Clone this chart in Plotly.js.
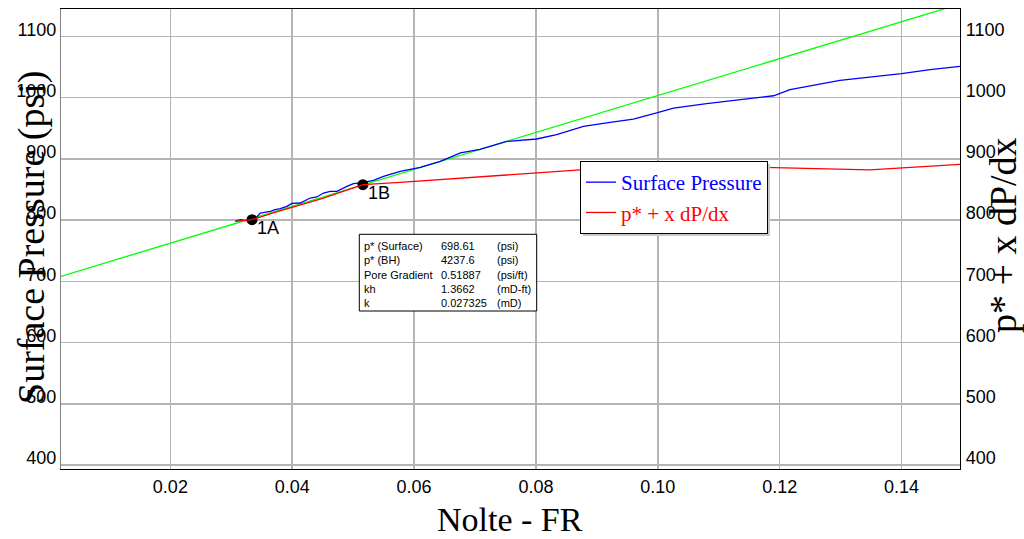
<!DOCTYPE html>
<html>
<head>
<meta charset="utf-8">
<script src="https://cdn.plot.ly/plotly-3.0.1.min.js"></script>
<style>html,body{margin:0;padding:0;background:#fff;}#chart{width:1024px;height:539px;}</style>
</head>
<body>
<div id="chart"></div>
<script>
// Surface Pressure (blue)
const surfX = [0.03065,0.03147,0.0323,0.03311,0.03421,0.03475,0.03557,0.03639,0.03721,0.03803,0.03913,0.03995,0.04131,0.04213,0.04295,0.04405,0.04514,0.04623,0.04733,0.04897,0.05006,0.0517,0.05334,0.05498,0.05662,0.05772,0.061,0.0643,0.0676,0.0708,0.0752,0.0801,0.0834,0.0878,0.0916,0.096,0.0998,0.1026,0.108,0.1097,0.1135,0.119,0.1217,0.1299,0.14,0.1447,0.1496];
const surfY = [797.8,800.6,799,801.8,805,811.5,812.5,814.2,817,818.6,822.3,827.2,827.9,832.1,836,837.7,844.2,846.8,846.8,855,859.4,861.5,864.8,871.3,876.9,879.5,886,895.8,909.6,915.4,928.5,932.4,939.4,953,958.6,965,974.9,983,990,992,996.7,1003,1013,1028,1039,1045.8,1051];
// p* + x dP/dx (red)
const fitX = [0.03065,0.0334,0.037,0.041,0.045,0.0487,0.0516,0.0577,0.0643,0.0801,0.0873,0.1,0.1173,0.1348,0.1496];
const fitY = [797.8,800.6,812,823.5,835.5,848,857.8,861.5,866,878,882,884.5,886,882,891];
// straight line (green)
const lineX = [0.0, 0.15];
const lineY = [702, 1154];
// selected points
const ptX = [0.0334, 0.0516];
const ptY = [800.6, 857.8];
const ptLabels = ["1A", "1B"];
// x / y ticks
const xTicks = [0.02,0.04,0.06,0.08,0.10,0.12,0.14];
const xTickText = ["0.02","0.04","0.06","0.08","0.10","0.12","0.14"];
const yTicks = [400,500,600,700,800,900,1000,1100];
// results table
const resLabels = ["p* (Surface)","p* (BH)","Pore Gradient","kh","k"];
const resValues = ["698.61","4237.6","0.51887","1.3662","0.027325"];
const resUnits = ["(psi)","(psi)","(psi/ft)","(mD-ft)","(mD)"];

const W = 1024, H = 539, mL = 61, mR = 64, mT = 9, mB = 70;
const pw = W - mL - mR, ph = H - mT - mB;
const px = v => (v - mL) / pw;
const py = v => (H - mB - v) / ph;

const xRange = [0.00205, 0.1496];
const yRange = [393.5, 1144.7];

const traces = [
  {x: lineX, y: lineY, mode: 'lines', line: {color: '#00ff00', width: 1.3}, showlegend: false, hoverinfo: 'skip'},
  {x: surfX, y: surfY, mode: 'lines', name: '<span style="color:#0000ff">Surface Pressure</span>', line: {color: '#0000ff', width: 1.3}},
  {x: fitX, y: fitY, mode: 'lines', yaxis: 'y2', name: '<span style="color:#ff0000">p* + x dP/dx</span>', line: {color: '#ff0000', width: 1.3}},
  {x: ptX, y: ptY, mode: 'markers', marker: {color: '#000', size: 11}, showlegend: false}
];

const tickFont = {family: 'Liberation Sans, Arial', size: 18, color: '#000'};
const serif = 'Liberation Serif, Times New Roman';

const annotations = [
  {text: 'Nolte - FR', xref: 'paper', yref: 'paper', x: px(510), y: py(519), xanchor: 'center', yanchor: 'middle', showarrow: false,
   font: {family: serif, size: 34, color: '#000'}},
  {text: 'Surface Pressure (psi)', xref: 'paper', yref: 'paper', x: px(31), y: py(238), xanchor: 'center', yanchor: 'middle', textangle: -90, showarrow: false,
   font: {family: serif, size: 38, color: '#000'}},
  {text: 'p* + x dP/dx', xref: 'paper', yref: 'paper', x: px(1003), y: py(235), xanchor: 'center', yanchor: 'middle', textangle: -90, showarrow: false,
   font: {family: serif, size: 38, color: '#000'}},
  {text: resLabels.join('<br>'), xref: 'paper', yref: 'paper', x: px(362), y: py(238), xanchor: 'left', yanchor: 'top', align: 'left', showarrow: false,
   font: {family: 'Liberation Sans, Arial', size: 11, color: '#000'}},
  {text: resValues.join('<br>'), xref: 'paper', yref: 'paper', x: px(439), y: py(238), xanchor: 'left', yanchor: 'top', align: 'left', showarrow: false,
   font: {family: 'Liberation Sans, Arial', size: 11, color: '#000'}},
  {text: resUnits.join('<br>'), xref: 'paper', yref: 'paper', x: px(495), y: py(238), xanchor: 'left', yanchor: 'top', align: 'left', showarrow: false,
   font: {family: 'Liberation Sans, Arial', size: 11, color: '#000'}}
];
ptLabels.forEach((t, i) => annotations.push({
  text: t, x: ptX[i], y: ptY[i], xref: 'x', yref: 'y', xanchor: 'left', yanchor: 'middle',
  xshift: 3, yshift: -8, showarrow: false, font: {family: 'Liberation Sans, Arial', size: 18, color: '#000'}
}));

const layout = {
  width: W, height: H,
  margin: {l: mL, r: mR, t: mT, b: mB, pad: 0},
  paper_bgcolor: '#fff', plot_bgcolor: '#fff',
  showlegend: true,
  xaxis: {range: xRange, tickvals: xTicks, ticktext: xTickText, showgrid: true, gridcolor: '#b4b4b4', gridwidth: 1.5,
          zeroline: false, showline: true, linecolor: '#000', linewidth: 1.2, mirror: true, ticks: '',
          tickfont: tickFont, ticklabelstandoff: 1},
  yaxis: {range: yRange, tickvals: yTicks, showgrid: true, gridcolor: '#b4b4b4', gridwidth: 1.5,
          zeroline: false, showline: true, linecolor: '#808080', linewidth: 1.2, ticks: '',
          tickfont: tickFont, ticklabelshift: -7, ticklabelstandoff: 0},
  yaxis2: {range: yRange, tickvals: yTicks, overlaying: 'y', side: 'right', showgrid: false, zeroline: false,
           showline: true, linecolor: '#000', linewidth: 1.2, ticks: '', tickfont: tickFont, ticklabelshift: -7, ticklabelstandoff: 1},
  legend: {x: px(580), y: py(161), xanchor: 'left', yanchor: 'top', bgcolor: '#fff', bordercolor: '#000', borderwidth: 1,
           font: {family: serif, size: 21, color: '#000'}},
  shapes: [
    {type: 'rect', xref: 'paper', yref: 'paper', x0: px(359.3), x1: px(536.7), y0: py(311), y1: py(234.3),
     line: {color: '#000', width: 1}, fillcolor: '#fff', layer: 'above'},
    {type: 'rect', xref: 'paper', yref: 'paper', x0: px(583), x1: px(770), y0: py(236), y1: py(164),
     line: {width: 0}, fillcolor: '#c8c8c8', layer: 'above'}
  ],
  annotations: annotations
};

Plotly.newPlot('chart', traces, layout, {staticPlot: true, displayModeBar: false});
</script>
</body>
</html>
